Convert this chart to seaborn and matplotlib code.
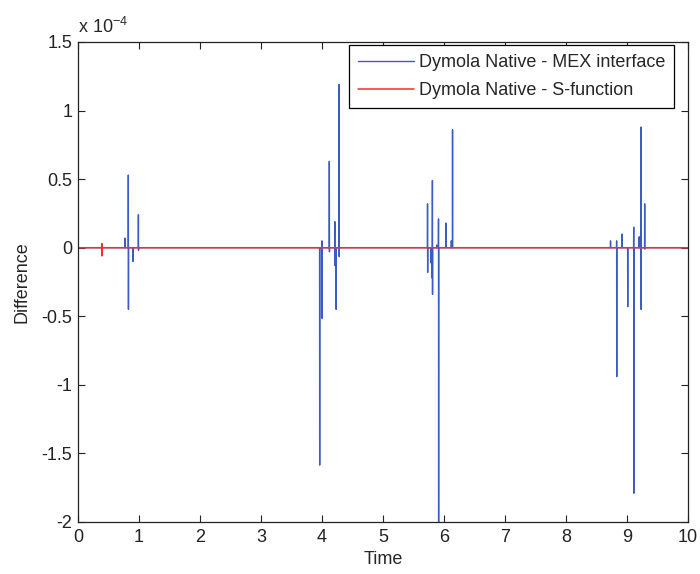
import numpy as np
import pandas as pd
import matplotlib
matplotlib.use("Agg")
import matplotlib.pyplot as plt
import seaborn as sns

# ---- data (values in units of 1e-4) ----
mex_spike_t  = [0.77, 0.825, 0.90, 0.99,
                3.96, 4.00, 4.12, 4.21, 4.23, 4.28,
                5.73, 5.78, 5.80, 5.81, 5.88, 5.91, 6.03, 6.12, 6.14,
                8.73, 8.83, 8.92, 9.01, 9.11, 9.20, 9.23, 9.29]
mex_spike_hi = [0.07, 0.53, 0.00, 0.24,
                0.00, 0.05, 0.63, 0.19, 0.00, 1.19,
                0.32, 0.00, 0.00, 0.49, 0.02, 0.21, 0.18, 0.05, 0.86,
                0.05, 0.05, 0.10, 0.00, 0.15, 0.08, 0.88, 0.32]
mex_spike_lo = [0.00, -0.45, -0.10, -0.02,
                -1.585, -0.515, -0.03, -0.13, -0.45, -0.065,
                -0.18, -0.11, -0.22, -0.34, 0.00, -2.10, 0.00, 0.00, 0.00,
                0.00, -0.94, 0.00, -0.43, -1.79, 0.00, -0.45, -0.01]

sfun_spike_t  = [0.39]
sfun_spike_hi = [0.03]
sfun_spike_lo = [-0.06]

x_ticks = [0, 1, 2, 3, 4, 5, 6, 7, 8, 9, 10]
y_ticks = [1.5, 1, 0.5, 0, -0.5, -1, -1.5, -2]
y_ticklabels = ["1.5", "1", "0.5", "0", "-0.5", "-1", "-1.5", "-2"]

labels = ["Dymola Native - MEX interface", "Dymola Native - S-function"]


def build(ts, his, los, eps=0.002):
    t = [0.0]
    d = [0.0]
    for ti, hi, lo in zip(ts, his, los):
        t += [ti - eps, ti, ti + eps, ti + 2 * eps]
        d += [0.0, hi, lo, 0.0]
    t.append(10.0)
    d.append(0.0)
    return np.array(t), np.array(d)


t1, d1 = build(mex_spike_t, mex_spike_hi, mex_spike_lo)
t2, d2 = build(sfun_spike_t, sfun_spike_hi, sfun_spike_lo)
df1 = pd.DataFrame({"Time": t1, "Difference": d1})
df2 = pd.DataFrame({"Time": t2, "Difference": d2})

sns.set_style("ticks")
plt.rcParams["font.family"] = ["Liberation Sans", "DejaVu Sans"]
FS = 13
plt.rcParams["font.size"] = FS

fig = plt.figure(figsize=(7.0, 5.74), dpi=100)
ax = fig.add_axes([78 / 700, 52 / 574, 610 / 700, 480 / 574])

sns.lineplot(data=df1, x="Time", y="Difference", ax=ax, sort=False,
             estimator=None, color="#3a5cc4", linewidth=1.0, label=labels[0])
sns.lineplot(data=df2, x="Time", y="Difference", ax=ax, sort=False,
             estimator=None, color="#ff2a2a", linewidth=1.1, label=labels[1])

ax.set_xlim(0, 10)
ax.set_ylim(-2, 1.5)
ax.set_xticks(x_ticks)
ax.set_xticklabels([str(v) for v in x_ticks])
ax.set_yticks(y_ticks)
ax.set_yticklabels(y_ticklabels)
ax.tick_params(direction="in", length=5, width=0.8, top=True, right=True,
               labelsize=FS, colors="#222222")
ax.tick_params(axis="x", pad=5)
ax.tick_params(axis="y", pad=4)
for s in ax.spines.values():
    s.set_visible(True)
    s.set_linewidth(0.9)
    s.set_color("#222222")

ax.set_xlabel("Time", fontsize=FS, labelpad=4)
ax.set_ylabel("Difference", fontsize=FS, labelpad=8)

ax.text(0.0, (522 - 33) / 480, r"x 10$^{\mathregular{-4}}$", transform=ax.transAxes,
        fontsize=FS, ha="left", va="baseline")

leg = ax.legend(loc="upper right", bbox_to_anchor=((674 - 78) / 610, (522 - 45) / 480),
                frameon=True, fancybox=False, shadow=False, fontsize=FS,
                handlelength=3.05, handletextpad=0.28, borderpad=0.5,
                labelspacing=0.62, borderaxespad=0)
leg.get_frame().set_edgecolor("black")
leg.get_frame().set_linewidth(0.9)
leg.get_frame().set_alpha(1)

fig.savefig("out.png", dpi=100)
